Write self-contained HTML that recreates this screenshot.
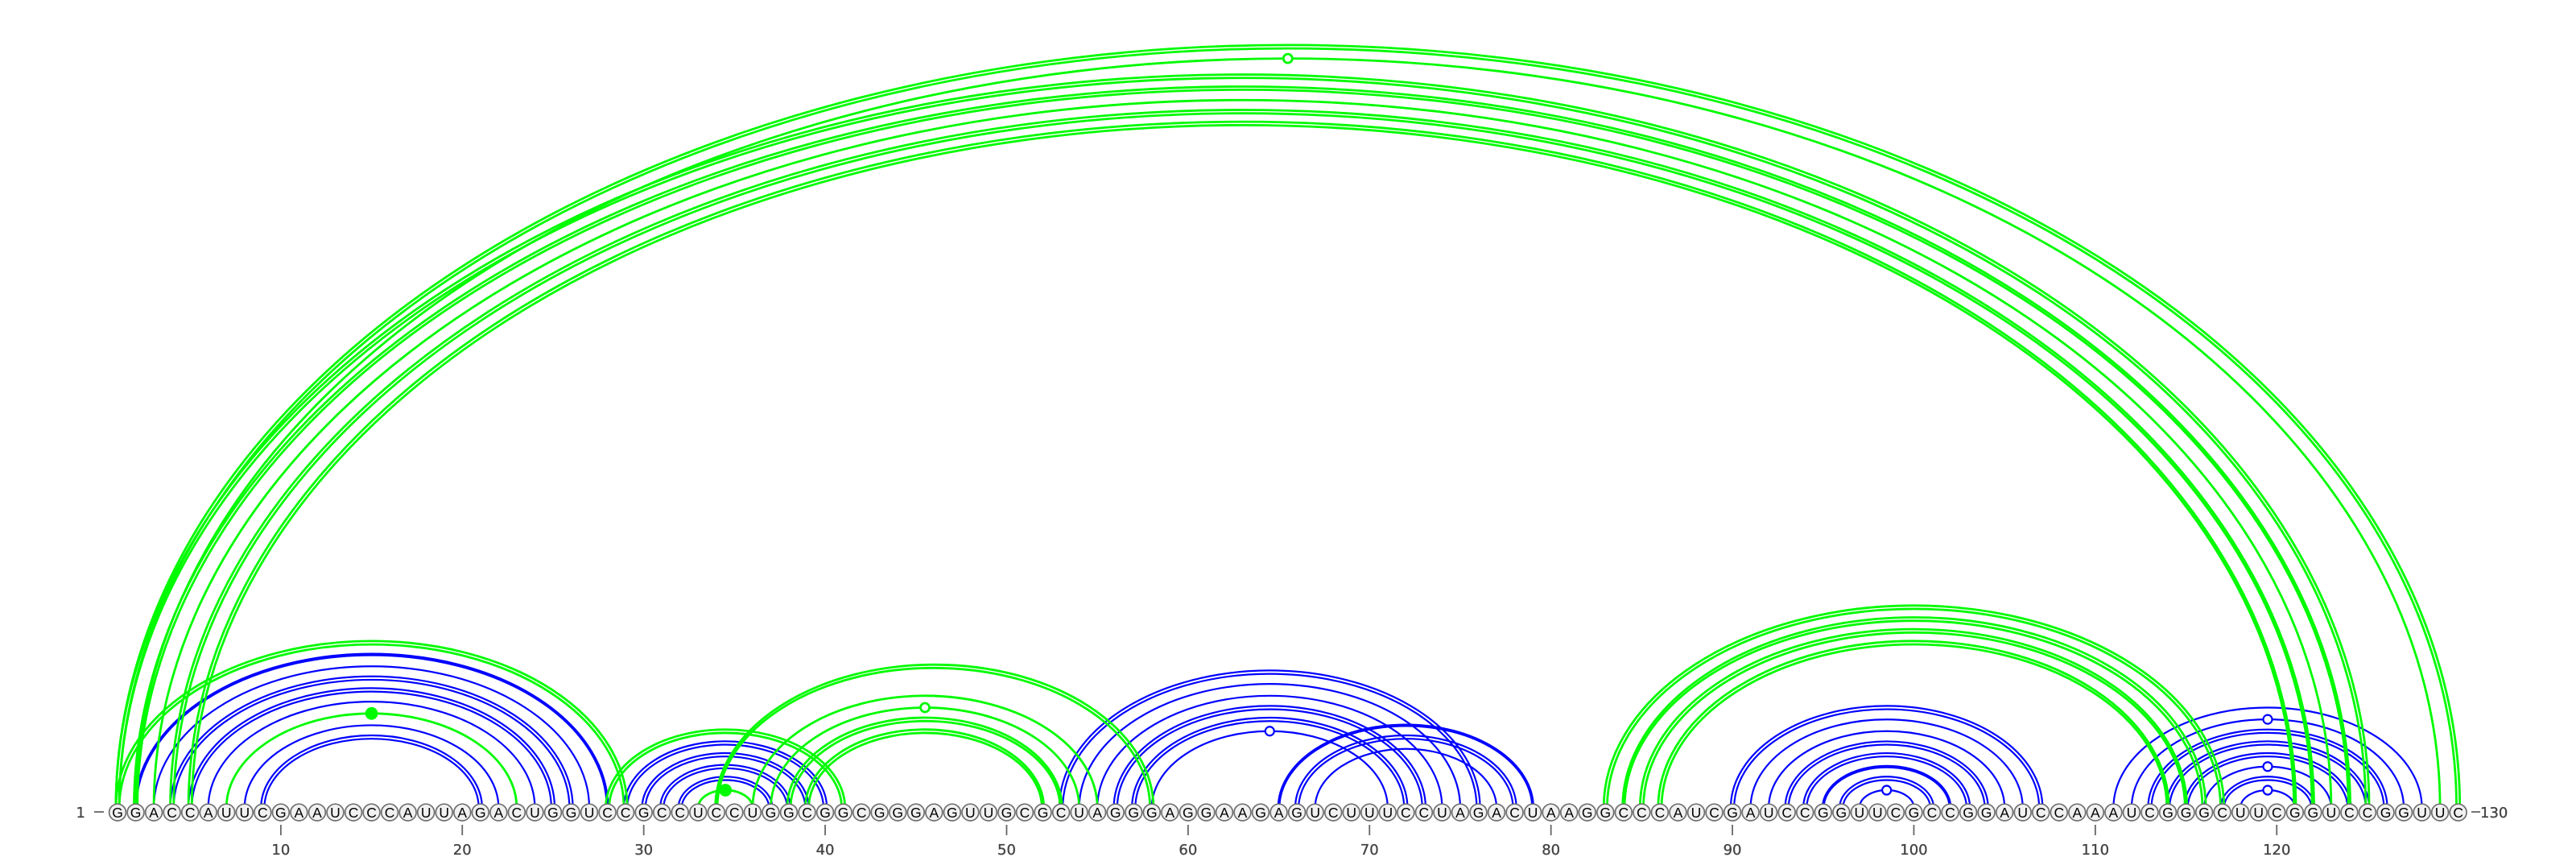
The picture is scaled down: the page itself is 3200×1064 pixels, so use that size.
<!DOCTYPE html>
<html lang="en">
<head>
<meta charset="utf-8">
<title>RNA arc diagram</title>
<style>
html,body{margin:0;padding:0;background:#fff;width:3200px;height:1064px;overflow:hidden}
svg{display:block}
.base{font-family:"Liberation Sans",sans-serif;font-size:17.5px;fill:#000;text-anchor:middle}
.num{font-family:"DejaVu Sans","Liberation Sans",sans-serif;font-size:18px;fill:#444;stroke:#444;stroke-width:.35px}
</style>
</head>
<body>
<svg id="chart" xmlns="http://www.w3.org/2000/svg" width="3200" height="1064" viewBox="0 0 3200 1064">
<rect width="3200" height="1064" fill="#ffffff"/>
</svg>
<script>
const sequence = "GGACCAUUCGAAUCCCAUUAGACUGGUCCGCCUCCUGGCGGCGGGAGUUGCGCUAGGGAGGAAGAGUCUUUCCUAGACUAAGGCCCAUCGAUCCGGUUCGCCGGAUCCAAAUCGGGCUUCGGUCCGGUUC".split("");
const tickValues = [10,20,30,40,50,60,70,80,90,100,110,120];
const blueStarts = [2,3,4,5,6,8,9, 29,30,31,32, 53,54,55,56,57,58, 65,66,67, 90,91,92,93,94,95,96,97, 111,112,113,114,115,116,117,118];
const blueEnds   = [28,27,26,25,24,22,21, 40,39,38,37, 76,75,74,73,72,71, 79,78,77, 107,106,105,104,103,102,101,100, 128,127,126,125,124,123,122,121];
const blueLines  = ["tight","single","double","double","single","single","double", "double","double","double","double", "double","single","single","double","double","single", "tight","double","single", "double","single","single","double","double","tight","double","single", "single","single","double","double","double","single","double","single"];
const blueMarks  = ["","","","","","","", "","","","", "","","","","","open", "","","", "","","","","","","","open", "","open","","","","open","","open"];
const greenStarts = [1,7, 28,33, 34,36,37,38,39, 83,84,85,86, 1,2,1,2,3,4,5];
const greenEnds   = [29,23, 41,36, 58,55,54,53,52, 117,116,115,114, 130,129,125,124,123,122,121];
const greenLines  = ["double","single", "double","single", "tightLeft","single","single","tightRight","tightRight", "double","tightLeft","tightRight","tightRight", "double","single","double","tightRight","single","tightRight","tightRight"];
const greenMarks  = ["","filled", "","filled", "","","open","","", "","","","", "","open","","","","",""];

const NS = "http://www.w3.org/2000/svg";
const svg = document.getElementById("chart");
const baseY = 1003, aspect = 0.65, nodeY = 1008.6;
function xScale(i){ return 146 + 22.54 * (i - 1); }
function make(tag, attrs){
  const el = document.createElementNS(NS, tag);
  for (const k in attrs) el.setAttribute(k, attrs[k]);
  return el;
}
function arcPath(s, e, left, right, rise){
  const x0 = xScale(s) - left, x1 = xScale(e) + right;
  const rx = (x1 - x0) / 2;
  const ry = (xScale(e) - xScale(s)) / 2 * aspect + rise;
  return "M" + x0.toFixed(2) + " " + baseY + " A" + rx.toFixed(2) + " " + ry.toFixed(2) + " 0 0 1 " + x1.toFixed(2) + " " + baseY;
}
function offsetsFor(kind){
  const wide = 2.1, narrow = 1.2, slim = 0.8;
  if (kind === "double") return [[-wide,-wide,-2.1],[wide,wide,2.1]];
  if (kind === "tight") return [[-slim,-slim,-0.9],[slim,slim,0.9]];
  if (kind === "tightLeft") return [[-narrow,-wide,-2.1],[narrow,wide,2.1]];
  if (kind === "tightRight") return [[-wide,-narrow,-2.1],[wide,narrow,2.1]];
  return [[0,0,0]];
}
function drawSeries(starts, ends, lines, marks, color, width, label){
  const group = make("g", {fill:"none", stroke:color, "stroke-width":width});
  
  
  svg.appendChild(group);
  starts.forEach(function(s, n){
    const e = ends[n];
    offsetsFor(lines[n]).forEach(function(off){
      const p = make("path", {d: arcPath(s, e, off[0], off[1], off[2])});
      
      
      group.appendChild(p);
    });
  });
  starts.forEach(function(s, n){
    if (!marks[n]) return;
    const e = ends[n];
    const cx = (xScale(s) + xScale(e)) / 2;
    const cy = baseY - (xScale(e) - xScale(s)) / 2 * aspect;
    const filled = marks[n] === "filled";
    const c = make("circle", {cx:cx, cy:cy, r: filled ? 6.5 : 5.5, fill: filled ? color : "#ffffff", stroke:color, "stroke-width":width});
    
    
    svg.appendChild(c);
  });
}
drawSeries(blueStarts, blueEnds, blueLines, blueMarks, "#0000ff", 2.2, "blue");
drawSeries(greenStarts, greenEnds, greenLines, greenMarks, "#00fa00", 2.8, "green");

sequence.forEach(function(ch, n){
  const x = xScale(n + 1);
  const c = make("circle", {cx:x, cy:nodeY, r:10.4, fill:"#f1f1f1", stroke:"#707070", "stroke-width":1.7});
  
  
  svg.appendChild(c);
  const t = make("text", {x:x, y:1015, "class":"base"});
  
  
  t.textContent = ch;
  svg.appendChild(t);
});

tickValues.forEach(function(v){
  const x = xScale(v);
  const l = make("line", {x1:x, x2:x, y1:1024, y2:1037, stroke:"#666666", "stroke-width":1.8});
  
  
  svg.appendChild(l);
  const t = make("text", {x:x, y:1061, "class":"num", "text-anchor":"middle"});
  
  
  t.textContent = v;
  svg.appendChild(t);
});

const startDash = make("line", {x1:117, x2:129, y1:1008, y2:1008, stroke:"#666666", "stroke-width":1.8});


svg.appendChild(startDash);
const startLabel = make("text", {x:106, y:1015, "class":"num", "text-anchor":"end"});


startLabel.textContent = "1";
svg.appendChild(startLabel);
const endDash = make("line", {x1:3070, x2:3081, y1:1008, y2:1008, stroke:"#666666", "stroke-width":1.8});


svg.appendChild(endDash);
const endLabel = make("text", {x:3081, y:1015, "class":"num", "text-anchor":"start"});


endLabel.textContent = String(sequence.length);
svg.appendChild(endLabel);
</script>
</body>
</html>
